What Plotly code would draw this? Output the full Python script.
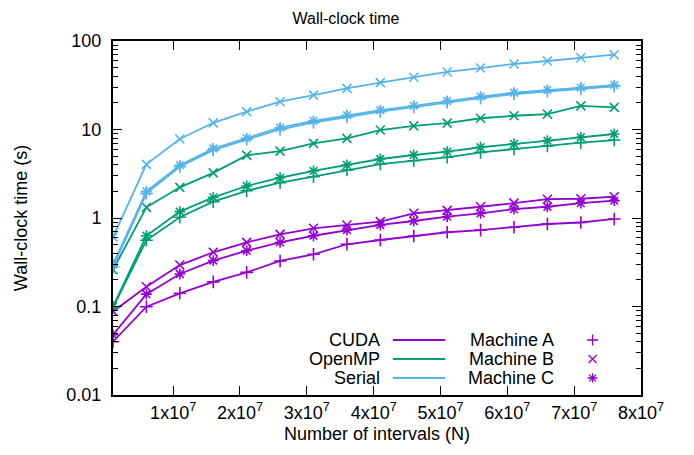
import plotly.graph_objects as go

N = [1e6, 6e6, 1.1e7, 1.6e7, 2.1e7, 2.6e7, 3.1e7, 3.6e7, 4.1e7, 4.6e7, 5.1e7, 5.6e7, 6.1e7, 6.6e7, 7.1e7, 7.6e7]

cuda_A = [0.040, 0.0995, 0.141, 0.19, 0.243, 0.327, 0.389, 0.505, 0.564, 0.626, 0.69, 0.73, 0.785, 0.855, 0.89, 0.975]
cuda_B = [0.088, 0.167, 0.294, 0.41, 0.53, 0.654, 0.765, 0.834, 0.91, 1.13, 1.22, 1.34, 1.47, 1.63, 1.65, 1.74]
cuda_C = [0.048, 0.138, 0.233, 0.33, 0.427, 0.53, 0.63, 0.73, 0.834, 0.925, 1.035, 1.13, 1.26, 1.34, 1.47, 1.57]

omp_A = [0.097, 0.56, 1.02, 1.53, 2.03, 2.51, 2.93, 3.48, 4.07, 4.44, 4.85, 5.52, 6.03, 6.51, 7.1, 7.6]
omp_B = [0.26, 1.32, 2.22, 3.24, 5.1, 5.7, 6.97, 7.95, 9.86, 11.0, 11.8, 13.4, 14.3, 14.9, 18.5, 17.8]
omp_C = [0.100, 0.63, 1.18, 1.71, 2.3, 2.85, 3.4, 3.97, 4.64, 5.15, 5.62, 6.3, 6.86, 7.48, 8.17, 8.9]

ser_A = [0.28, 1.9, 3.8, 5.85, 7.7, 10.0, 12.0, 13.9, 15.9, 17.9, 20.2, 22.6, 25.2, 27.0, 28.8, 30.8]
ser_B = [0.61, 4.04, 7.8, 11.9, 15.9, 20.6, 24.5, 29.2, 33.9, 38.9, 44.7, 49.5, 55.0, 59.4, 64.6, 70.0]
ser_C = [0.30, 2.0, 3.95, 6.1, 8.0, 10.5, 12.5, 14.5, 16.5, 18.5, 21.0, 23.5, 26.0, 28.0, 29.8, 31.8]

x_tickvals = [1e7, 2e7, 3e7, 4e7, 5e7, 6e7, 7e7, 8e7]
x_ticktext = ["%dx10<sup>7</sup>" % i for i in range(1, 9)]
y_tickvals = [0.01, 0.1, 1, 10, 100]
y_ticktext = ["0.01", "0.1", "1", "10", "100"]

impl_names = ["CUDA", "OpenMP", "Serial"]
machine_names = ["Machine A", "Machine B", "Machine C"]
colors = {"CUDA": "#9400D3", "OpenMP": "#009E73", "Serial": "#56B4E9"}
symbols = {"Machine A": "cross-thin-open", "Machine B": "x-thin-open", "Machine C": "asterisk-open"}

series = [
    ("CUDA", "Machine A", cuda_A), ("CUDA", "Machine B", cuda_B), ("CUDA", "Machine C", cuda_C),
    ("OpenMP", "Machine A", omp_A), ("OpenMP", "Machine B", omp_B), ("OpenMP", "Machine C", omp_C),
    ("Serial", "Machine A", ser_A), ("Serial", "Machine B", ser_B), ("Serial", "Machine C", ser_C),
]

FONT = "Liberation Sans"
FS = 18

fig = go.Figure()
for impl, mach, vals in series:
    c = colors[impl]
    fig.add_trace(go.Scatter(
        x=N, y=vals, mode="lines+markers", showlegend=False,
        line=dict(color=c, width=1.8),
        marker=dict(symbol=symbols[mach], size=9, color=c, line=dict(color=c, width=1.6)),
    ))

# Page geometry (the page body adds an 8px offset to the figure)
W, H = 694, 455
OFF = 8
PL, PR, PT, PB = 107, 641, 41, 395  # plot area in page pixels

# Custom gnuplot-style key drawn on an overlay axis in page-pixel coordinates
row_y = [340, 359, 378]
for i, impl in enumerate(impl_names):
    fig.add_trace(go.Scatter(x=[390, 443], y=[row_y[i], row_y[i]], mode="lines",
                             xaxis="x2", yaxis="y2", showlegend=False, hoverinfo="skip",
                             line=dict(color=colors[impl], width=1.8)))
    fig.add_annotation(x=379, y=row_y[i], xref="x2", yref="y2", text=impl, showarrow=False,
                       xanchor="right", yanchor="middle", font=dict(family=FONT, size=FS, color="black"))
for i, mach in enumerate(machine_names):
    fig.add_trace(go.Scatter(x=[592], y=[row_y[i]], mode="markers",
                             xaxis="x2", yaxis="y2", showlegend=False, hoverinfo="skip",
                             marker=dict(symbol=symbols[mach], size=8, color=colors["CUDA"],
                                         line=dict(color=colors["CUDA"], width=1.3))))
    fig.add_annotation(x=555, y=row_y[i], xref="x2", yref="y2", text=mach, showarrow=False,
                       xanchor="right", yanchor="middle", font=dict(family=FONT, size=FS, color="black"))

fig.update_layout(
    width=W, height=H,
    margin=dict(l=PL - OFF, r=W - (PR - OFF), t=PT - OFF, b=H - (PB - OFF)),
    paper_bgcolor="white", plot_bgcolor="white",
    font=dict(family=FONT, size=FS, color="black"),
    title=dict(text="Wall-clock time", x=(346 - OFF) / W, xref="container", xanchor="center",
               y=1 - (18 - OFF) / H, yref="container", yanchor="middle",
               font=dict(family=FONT, size=16, color="black")),
    xaxis=dict(
        type="linear", range=[1e6, 8e7],
        tickvals=x_tickvals, ticktext=x_ticktext,
        ticks="inside", ticklen=9, tickwidth=1, tickcolor="black",
        showline=True, linecolor="black", linewidth=2, mirror="allticks",
        showgrid=False, zeroline=False,
        title=dict(text="Number of intervals (N)", standoff=6, font=dict(family=FONT, size=FS)),
        tickfont=dict(family=FONT, size=FS),
    ),
    yaxis=dict(
        type="log", range=[-2, 2],
        tickvals=y_tickvals, ticktext=y_ticktext,
        ticks="inside", ticklen=9, tickwidth=1, tickcolor="black",
        minor=dict(ticks="inside", ticklen=5, tickwidth=1, tickcolor="black", dtick="D1", showgrid=False),
        showline=True, linecolor="black", linewidth=2, mirror="allticks",
        showgrid=False, zeroline=False,
        title=dict(text="Wall-clock time (s)", standoff=34, font=dict(family=FONT, size=FS)),
        tickfont=dict(family=FONT, size=FS),
        ticklabelstandoff=6,
    ),
    xaxis2=dict(overlaying="x", range=[PL, PR], visible=False, fixedrange=True),
    yaxis2=dict(overlaying="y", range=[PB, PT], visible=False, fixedrange=True),
)

fig.write_html("out.html")
